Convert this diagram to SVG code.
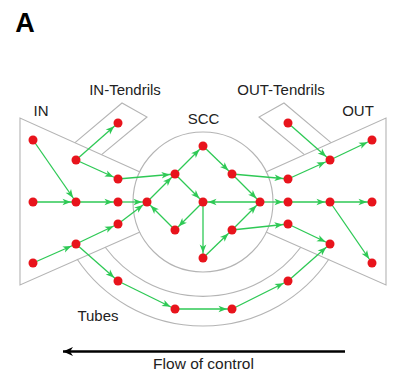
<svg xmlns="http://www.w3.org/2000/svg" width="401" height="391" viewBox="0 0 401 391">
<style>
.sh{fill:none;stroke:#b4b4b4;stroke-width:1.1}
.e{stroke:#2ec955;stroke-width:1.3;fill:none;marker-end:url(#ah)}
.n{fill:#e8141c}
.t{font-family:"Liberation Sans",Arial,sans-serif;font-size:15px;fill:#222;text-anchor:middle}
</style>
<defs>
<marker id="ah" viewBox="-1 -5 16 10" refX="13.5" refY="0" markerWidth="16" markerHeight="10" markerUnits="userSpaceOnUse" orient="auto">
<path d="M0,-3.3 L8.5,0 L0,3.3 L2.2,0 z" fill="#2ec955"/>
</marker>
<marker id="bh" viewBox="-1 -6 14 12" refX="10" refY="0" markerWidth="14" markerHeight="12" markerUnits="userSpaceOnUse" orient="auto">
<path d="M0,-4.5 L10,0 L0,4.5 L3,0 z" fill="#000"/>
</marker>
</defs>
<rect width="401" height="391" fill="#fff"/>
<text x="25" y="32" style="font-family:'Liberation Sans',Arial,sans-serif;font-size:27px;font-weight:bold;text-anchor:middle" fill="#000">A</text>
<g id="shapes">
<circle class="sh" cx="203" cy="202" r="70"/>
<polyline class="sh" points="140,172 20,118 20,285 140,232"/>
<polyline class="sh" points="266,172 386,118 386,285 266,232"/>
<polyline class="sh" points="75,142.7 122,103 147,117 101.6,154.7"/>
<polyline class="sh" points="331,142.7 284,103 259,117 304.4,154.7"/>
<path class="sh" d="M105,247 A122,122 0 0 0 301,247"/>
<path class="sh" d="M77,259 A152,152 0 0 0 329,259"/>
</g>
<g id="labels">
<text class="t" x="41" y="116">IN</text>
<text class="t" x="125" y="95">IN-Tendrils</text>
<text class="t" x="203.5" y="124">SCC</text>
<text class="t" x="281" y="95">OUT-Tendrils</text>
<text class="t" x="358" y="116">OUT</text>
<text class="t" x="98" y="321">Tubes</text>
<text class="t" x="203.5" y="369" style="font-size:15.5px">Flow of control</text>
</g>
<g id="connectors">
<line class="e" x1="33" y1="140" x2="76" y2="202"/>
<line class="e" x1="33" y1="202" x2="76" y2="202"/>
<line class="e" x1="76" y1="202" x2="118" y2="202"/>
<line class="e" x1="118" y1="202" x2="147" y2="202"/>
<line class="e" x1="76" y1="160" x2="118" y2="123"/>
<line class="e" x1="76" y1="160" x2="118" y2="179"/>
<line class="e" x1="118" y1="179" x2="175" y2="174"/>
<line class="e" x1="33" y1="263" x2="76" y2="244"/>
<line class="e" x1="76" y1="244" x2="118" y2="224"/>
<line class="e" x1="118" y1="224" x2="147" y2="202"/>
<line class="e" x1="76" y1="244" x2="118" y2="281"/>
<line class="e" x1="147" y1="202" x2="175" y2="174"/>
<line class="e" x1="175" y1="174" x2="203" y2="146"/>
<line class="e" x1="175" y1="174" x2="203" y2="202"/>
<line class="e" x1="175" y1="230" x2="147" y2="202"/>
<line class="e" x1="203" y1="202" x2="175" y2="230"/>
<line class="e" x1="203" y1="146" x2="232" y2="174"/>
<line class="e" x1="232" y1="174" x2="260" y2="202"/>
<line class="e" x1="260" y1="202" x2="203" y2="202"/>
<line class="e" x1="203" y1="202" x2="203" y2="258"/>
<line class="e" x1="203" y1="258" x2="232" y2="230"/>
<line class="e" x1="232" y1="230" x2="260" y2="202"/>
<line class="e" x1="232" y1="174" x2="288" y2="179"/>
<line class="e" x1="260" y1="202" x2="288" y2="202"/>
<line class="e" x1="232" y1="230" x2="288" y2="224"/>
<line class="e" x1="288" y1="179" x2="330" y2="160"/>
<line class="e" x1="288" y1="123" x2="330" y2="160"/>
<line class="e" x1="330" y1="160" x2="372" y2="140"/>
<line class="e" x1="288" y1="202" x2="330" y2="202"/>
<line class="e" x1="330" y1="202" x2="372" y2="202"/>
<line class="e" x1="330" y1="202" x2="372" y2="263"/>
<line class="e" x1="288" y1="224" x2="330" y2="244"/>
<line class="e" x1="118" y1="281" x2="175" y2="309"/>
<line class="e" x1="175" y1="309" x2="232" y2="309"/>
<line class="e" x1="232" y1="309" x2="288" y2="281"/>
<line class="e" x1="288" y1="281" x2="330" y2="244"/>
<line x1="345" y1="351.5" x2="63" y2="351.5" stroke="#000" stroke-width="2.6" marker-end="url(#bh)"/>
</g>
<g id="n1"><circle class="n" cx="33" cy="140" r="4.5"/></g>
<g id="n2"><circle class="n" cx="76" cy="160" r="4.5"/></g>
<g id="n3"><circle class="n" cx="118" cy="123" r="4.5"/></g>
<g id="n4"><circle class="n" cx="118" cy="179" r="4.5"/></g>
<g id="n5"><circle class="n" cx="33" cy="202" r="4.5"/></g>
<g id="n6"><circle class="n" cx="76" cy="202" r="4.5"/></g>
<g id="n7"><circle class="n" cx="118" cy="202" r="4.5"/></g>
<g id="n8"><circle class="n" cx="118" cy="224" r="4.5"/></g>
<g id="n9"><circle class="n" cx="76" cy="244" r="4.5"/></g>
<g id="n10"><circle class="n" cx="33" cy="263" r="4.5"/></g>
<g id="s1"><circle class="n" cx="147" cy="202" r="4.5"/></g>
<g id="s2"><circle class="n" cx="175" cy="174" r="4.5"/></g>
<g id="s3"><circle class="n" cx="175" cy="230" r="4.5"/></g>
<g id="s4"><circle class="n" cx="203" cy="146" r="4.5"/></g>
<g id="s5"><circle class="n" cx="203" cy="202" r="4.5"/></g>
<g id="s6"><circle class="n" cx="203" cy="258" r="4.5"/></g>
<g id="s7"><circle class="n" cx="232" cy="174" r="4.5"/></g>
<g id="s8"><circle class="n" cx="232" cy="230" r="4.5"/></g>
<g id="s9"><circle class="n" cx="260" cy="202" r="4.5"/></g>
<g id="o1"><circle class="n" cx="288" cy="123" r="4.5"/></g>
<g id="o2"><circle class="n" cx="288" cy="179" r="4.5"/></g>
<g id="o3"><circle class="n" cx="288" cy="202" r="4.5"/></g>
<g id="o4"><circle class="n" cx="288" cy="224" r="4.5"/></g>
<g id="o5"><circle class="n" cx="330" cy="160" r="4.5"/></g>
<g id="o6"><circle class="n" cx="330" cy="202" r="4.5"/></g>
<g id="o7"><circle class="n" cx="330" cy="244" r="4.5"/></g>
<g id="o8"><circle class="n" cx="372" cy="140" r="4.5"/></g>
<g id="o9"><circle class="n" cx="372" cy="202" r="4.5"/></g>
<g id="o10"><circle class="n" cx="372" cy="263" r="4.5"/></g>
<g id="t1"><circle class="n" cx="118" cy="281" r="4.5"/></g>
<g id="t2"><circle class="n" cx="175" cy="309" r="4.5"/></g>
<g id="t3"><circle class="n" cx="232" cy="309" r="4.5"/></g>
<g id="t4"><circle class="n" cx="288" cy="281" r="4.5"/></g>
</svg>
